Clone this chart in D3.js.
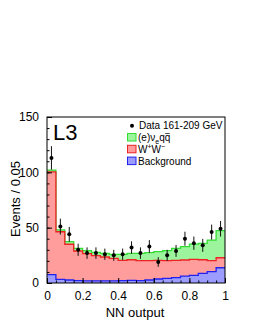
<!DOCTYPE html>
<html>
<head>
<meta charset="utf-8">
<script src="https://cdn.jsdelivr.net/npm/d3@7"></script>
<style>
  body { margin: 0; background: #fff; }
  text { font-family: "Liberation Sans", Arial, sans-serif; }
</style>
</head>
<body>
<svg id="chart" width="255" height="329"></svg>
<script>
// NN output bins, width 0.05
const binEdges = d3.range(0, 21).map(i => i * 0.05)
const background = [7.5, 3.3, 2.7, 2.1, 2.0, 2.0, 2.0, 2.0, 2.2, 2.4, 2.1, 2.7, 3.6, 4.2, 4.8, 6.3, 6.9, 8.7, 10.2, 13.8]
const wwPairs = [93.0, 43.0, 32.3, 26.8, 24.5, 22.7, 21.5, 20.3, 18.3, 18.6, 18.1, 17.5, 16.9, 16.0, 15.7, 14.5, 14.5, 12.3, 10.0, 9.0]
const enuqq = [1.5, 1.7, 2.3, 2.4, 2.7, 3.0, 3.3, 3.6, 5.4, 5.8, 6.6, 7.2, 7.8, 9.0, 10.8, 12.0, 13.8, 14.8, 18.6, 24.5]
const dataCounts = [113, 51, 44, 30, 27, 27, 26, 25, 26, 32, 27, 33, 19, 25, 29, 40, 36, 34, 46, 49]
const xTicks = [0, 0.2, 0.4, 0.6, 0.8, 1]
const yTicks = [0, 50, 100, 150]

const svg = d3.select('#chart')
const margin = { left: 47, top: 117, right: 30, bottom: 46 }
const width = +svg.attr('width') - margin.left - margin.right
const height = +svg.attr('height') - margin.top - margin.bottom

const x = d3.scaleLinear().domain([0, 1]).range([0, width])
const y = d3.scaleLinear().domain([0, 150]).range([height, 0])

const g = svg.append('g')
  .attr('transform', 'translate(' + margin.left + ',' + margin.top + ')')

// cumulative stacks
const bgTop = background
const wwTop = background.map((v, i) => v + wwPairs[i])
const allTop = wwTop.map((v, i) => v + enuqq[i])

function stepPoints(tops) {
  const pts = []
  tops.forEach((v, i) => {
    pts.push([binEdges[i], v])
    pts.push([binEdges[i + 1], v])
  })
  return pts
}

const area = d3.area()
  .x(d => x(d[0]))
  .y0(y(0))
  .y1(d => y(d[1]))
const line = d3.line()
  .x(d => x(d[0]))
  .y(d => y(d[1]))

const layers = [
  { tops: allTop, fill: '#9cf59c', stroke: '#33dd33' },
  { tops: wwTop, fill: '#ff9c9c', stroke: '#ee2222' },
  { tops: bgTop, fill: '#9c9cff', stroke: '#2222ee' }
]

layers.forEach(l => {
  const pts = stepPoints(l.tops)
  g.append('path').attr('d', area(pts)).attr('fill', l.fill)
  g.append('path').attr('d', line(pts))
    .attr('fill', 'none').attr('stroke', l.stroke).attr('stroke-width', 1.3)
})

// data points with sqrt(N) errors
const centers = dataCounts.map((c, i) => (binEdges[i] + binEdges[i + 1]) / 2)
g.selectAll('.err')
  .data(dataCounts)
  .enter()
  .append('line')
  .attr('x1', (d, i) => x(centers[i]))
  .attr('x2', (d, i) => x(centers[i]))
  .attr('y1', d => y(d + Math.sqrt(d)))
  .attr('y2', d => y(d - Math.sqrt(d)))
  .attr('stroke', '#111')
  .attr('stroke-width', 1)
g.selectAll('.pt')
  .data(dataCounts)
  .enter()
  .append('circle')
  .attr('cx', (d, i) => x(centers[i]))
  .attr('cy', d => y(d))
  .attr('r', 2)
  .attr('fill', '#000')

// frame
g.append('rect')
  .attr('width', width).attr('height', height)
  .attr('fill', 'none').attr('stroke', '#000').attr('stroke-width', 1)

// axes, ticks inside
const xAxis = g.append('g')
  .attr('transform', 'translate(0,' + height + ')')
  .call(d3.axisBottom(x).tickValues(xTicks).tickSize(-5).tickPadding(8)
    .tickFormat(d => d === 0 || d === 1 ? d3.format('d')(d) : d3.format('.1f')(d)))
xAxis.select('.domain').remove()
g.append('g')
  .attr('transform', 'translate(0,' + height + ')')
  .call(d3.axisBottom(x).tickValues(d3.range(0, 1.0001, 0.05)).tickSize(-2.5).tickFormat(''))
  .select('.domain').remove()

const yAxis = g.append('g')
  .call(d3.axisLeft(y).tickValues(yTicks).tickSize(-5).tickPadding(8))
yAxis.select('.domain').remove()
g.append('g')
  .call(d3.axisLeft(y).tickValues(d3.range(0, 151, 10)).tickSize(-2.5).tickFormat(''))
  .select('.domain').remove()

svg.selectAll('.tick text').attr('font-size', 12).attr('font-family', '"Liberation Sans", Arial, sans-serif').attr('fill', '#000')
svg.selectAll('.tick line').attr('stroke', '#000')

// titles
svg.append('text')
  .attr('x', margin.left + width / 2 - 1)
  .attr('y', 317)
  .attr('text-anchor', 'middle')
  .attr('font-size', 13)
  .text('NN output')
svg.append('text')
  .attr('transform', 'translate(20,199) rotate(-90)')
  .attr('text-anchor', 'middle')
  .attr('font-size', 13)
  .text('Events / 0.05')

svg.append('text')
  .attr('x', 53).attr('y', 139.5)
  .attr('font-size', 22)
  .text('L3')

// legend
const leg = svg.append('g')
leg.append('circle').attr('cx', 132).attr('cy', 125.7).attr('r', 2).attr('fill', '#000')
leg.append('text').attr('x', 139).attr('y', 129.3).attr('font-size', 10).text('Data 161-209 GeV')

const legItems = [
  { fill: '#9cf59c', stroke: '#33dd33', y: 133.5 },
  { fill: '#ff9c9c', stroke: '#ee2222', y: 145.3 },
  { fill: '#9c9cff', stroke: '#2222ee', y: 157.1 }
]
legItems.forEach(it => {
  leg.append('rect').attr('x', 127.5).attr('y', it.y).attr('width', 8.5).attr('height', 7.5)
    .attr('fill', it.fill).attr('stroke', it.stroke).attr('stroke-width', 1)
})

const t1 = leg.append('text').attr('x', 138).attr('y', 141).attr('font-size', 10)
t1.append('tspan').text('(e)ν')
t1.append('tspan').attr('font-size', 7).attr('dy', 2.5).text('e')
t1.append('tspan').attr('dy', -2.5).text('q')
const qbar = t1.append('tspan').text('q')
// bar over the second q
const qb = qbar.node().getBBox()
leg.append('line').attr('x1', qb.x + 0.5).attr('x2', qb.x + qb.width - 0.5)
  .attr('y1', 133.5).attr('y2', 133.5)
  .attr('stroke', '#000').attr('stroke-width', 0.7)

const t2 = leg.append('text').attr('x', 138).attr('y', 152.8).attr('font-size', 10)
t2.append('tspan').text('W')
t2.append('tspan').attr('font-size', 7).attr('dy', -4).text('+')
t2.append('tspan').attr('dy', 4).text('W')
t2.append('tspan').attr('font-size', 7).attr('dy', -4).text('−')

leg.append('text').attr('x', 138).attr('y', 164.6).attr('font-size', 10).text('Background')
</script>
</body>
</html>
